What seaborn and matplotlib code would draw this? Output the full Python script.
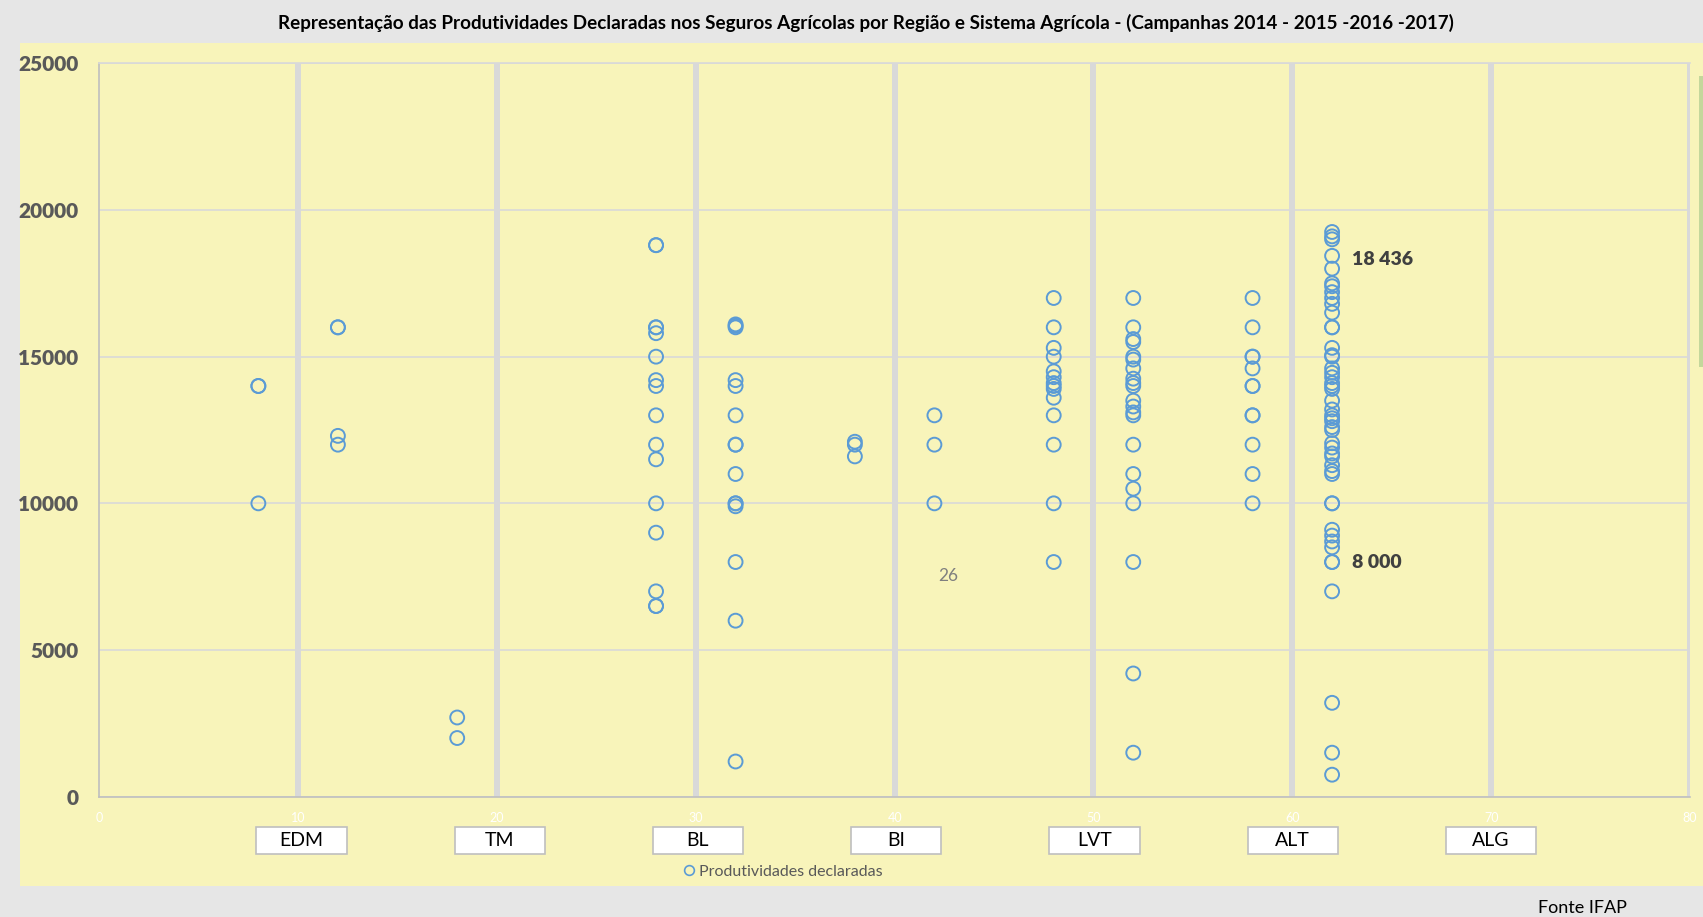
import matplotlib
matplotlib.use("Agg")
import matplotlib.pyplot as plt
import matplotlib.transforms as mtransforms
from matplotlib.patches import Rectangle
from matplotlib.lines import Line2D
import seaborn as sns
import pandas as pd

# ---------------- data ----------------
regions = ["EDM", "TM", "BL", "BI", "LVT", "ALT", "ALG"]
region_pos = [10, 20, 30, 40, 50, 60, 70]

x_edm_a = 8
y_edm_a = [14000, 14000, 10000]
x_edm_b = 12
y_edm_b = [16000, 16000, 12300, 12000]
x_tm = 18
y_tm = [2700, 2000]
x_bl_a = 28
y_bl_a = [18800, 18800, 16000, 16000, 15800, 15000, 14200, 14000, 13000,
          12000, 11500, 10000, 9000, 7000, 6500, 6500]
x_bl_b = 32
y_bl_b = [16100, 16050, 16000, 14200, 14000, 13000, 12000, 12000, 11000,
          10000, 10000, 9900, 8000, 6000, 1200]
x_bi_a = 38
y_bi_a = [12100, 12000, 11600]
x_bi_b = 42
y_bi_b = [13000, 12000, 10000]
x_lvt_a = 48
y_lvt_a = [17000, 16000, 15300, 15000, 14500, 14300, 14100, 14000, 13900,
           13600, 13000, 12000, 10000, 8000]
x_lvt_b = 52
y_lvt_b = [17000, 16000, 15600, 15500, 15000, 14900, 14600, 14250, 14100,
           14000, 13500, 13300, 13100, 13000, 12000, 11000, 10500, 10000,
           8000, 4200, 1500]
x_alt_a = 58
y_alt_a = [17000, 16000, 15000, 15000, 14600, 14000, 14000, 13000, 13000,
           12000, 11000, 10000]
x_alt_b = 62
y_alt_b = [19250, 19100, 19000, 18436, 18000, 17500, 17400, 17200, 17000,
           16800, 16500, 16000, 16000, 15300, 15050, 15000, 14600, 14450,
           14300, 14100, 14000, 13900, 13500, 13200, 13000, 12900, 12800,
           12600, 12500, 12050, 11900, 11700, 11600, 11300, 11100, 11000,
           10000, 10000, 9100, 8900, 8700, 8500, 8000, 8000, 7000, 3200,
           1500, 750]

annot_max = 18436
annot_min = 8000
annot_count = "26"

title = ("Representação das Produtividades Declaradas nos Seguros Agrícolas "
         "por Região e Sistema Agrícola - (Campanhas 2014 - 2015 -2016 -2017)")
legend_label = "Produtividades declaradas"
source = "Fonte IFAP"

groups = [(x_edm_a, y_edm_a), (x_edm_b, y_edm_b), (x_tm, y_tm),
          (x_bl_a, y_bl_a), (x_bl_b, y_bl_b), (x_bi_a, y_bi_a),
          (x_bi_b, y_bi_b), (x_lvt_a, y_lvt_a), (x_lvt_b, y_lvt_b),
          (x_alt_a, y_alt_a), (x_alt_b, y_alt_b)]
xs, ys = [], []
for gx, gy in groups:
    xs += [gx] * len(gy)
    ys += gy
df = pd.DataFrame({"x": xs, "y": ys})

# ---------------- style ----------------
sns.set_theme(style="white")
plt.rcParams["font.family"] = ["Lato", "DejaVu Sans"]

YELLOW = "#F8F4BA"
GREY_BG = "#E6E6E6"
BLUE = "#5B9BD5"
GRID = "#D9D9D9"

W, H = 1703, 917
fig = plt.figure(figsize=(W / 100, H / 100), dpi=100, facecolor=GREY_BG)

# chart area (yellow panel)
fig.patches.append(Rectangle((20 / W, 1 - 886 / H), (W - 20) / W, (886 - 43) / H,
                             transform=fig.transFigure, facecolor=YELLOW,
                             edgecolor="none", zorder=-2))
# green scrollbar-like strip on right edge
fig.patches.append(Rectangle((1699 / W, 1 - 367 / H), 4 / W, (367 - 76) / H,
                             transform=fig.transFigure, facecolor="#C4D79B",
                             edgecolor="none", zorder=-1))

left, right = 99.3 / W, 1690 / W
bottom, top = 1 - 796.7 / H, 1 - 63.3 / H
ax = fig.add_axes([left, bottom, right - left, top - bottom])
ax.set_zorder(2)
ax.set_facecolor(YELLOW)

sns.scatterplot(data=df, x="x", y="y", ax=ax, s=100, marker="o",
                linewidth=1.4, zorder=5, legend=False)
pc = ax.collections[-1]
pc.set_facecolor("none")
pc.set_edgecolor(BLUE)

ax.set_xlim(0, 80)
ax.set_ylim(0, 25000)
ax.set_xticks(range(0, 81, 10))
ax.set_yticks(range(0, 25001, 5000))
ax.set_xlabel("")
ax.set_ylabel("")

ax.yaxis.grid(True, color=GRID, linewidth=1.2, zorder=1)
ax.xaxis.grid(False)
for xv in range(10, 81, 10):
    ax.axvline(xv, color=GRID, linewidth=4.3, zorder=2)

for side in ["left", "bottom"]:
    ax.spines[side].set_color("#BFBFBF")
    ax.spines[side].set_linewidth(1.2)
ax.spines["top"].set_color(GRID)
ax.spines["top"].set_linewidth(1.2)
ax.spines["right"].set_visible(False)

ax.tick_params(axis="y", length=0, pad=15, labelsize=15, labelcolor="#595959")
for lab in ax.get_yticklabels():
    lab.set_fontweight("heavy")
ax.tick_params(axis="x", length=0, pad=11, labelsize=9, labelcolor="white")

# region boxes under the axis
trans = mtransforms.blended_transform_factory(ax.transData, ax.transAxes)
box_w = 4.53
for i, (name, pos) in enumerate(zip(regions, region_pos)):
    cx = pos + 0.17 - 0.03 * i
    ax.add_patch(Rectangle((cx - box_w / 2, -0.0777), box_w, 0.0368,
                           transform=trans, facecolor="white",
                           edgecolor="#BFBFBF", linewidth=1.2,
                           clip_on=False, zorder=6))
    ax.text(cx, -0.0777 + 0.0184, name, transform=trans, ha="center",
            va="center", fontsize=14, color="black", zorder=7)

# annotations
ax.text(63.0, annot_max - 120, f"{annot_max:,}".replace(",", " "), ha="left",
        va="center", fontsize=14, fontweight="heavy", color="#404040", zorder=7)
ax.text(63.0, annot_min, f"{annot_min:,}".replace(",", " "), ha="left",
        va="center", fontsize=14, fontweight="heavy", color="#404040", zorder=7)
ax.text(42.7, 7540, annot_count, ha="center", va="center", fontsize=12.5,
        color="#7F7F7F", zorder=7)

# title
fig.text(866 / W, 1 - 23 / H, title, ha="center", va="center",
         fontsize=13.6, fontweight="bold", color="black")

# legend
handle = Line2D([], [], linestyle="none", marker="o", markersize=7,
                markerfacecolor="none", markeredgecolor=BLUE,
                markeredgewidth=1.2)
leg = fig.legend([handle], [legend_label], loc="center",
                 bbox_to_anchor=(782 / W, 1 - 872 / H), frameon=False,
                 fontsize=11.5, handletextpad=0.1, handlelength=1.0)
for t in leg.get_texts():
    t.set_color("#595959")

# source
fig.text(1627 / W, 1 - 908 / H, source, ha="right", va="center",
         fontsize=13, color="black")

fig.savefig("out.png", dpi=100, facecolor=GREY_BG)
